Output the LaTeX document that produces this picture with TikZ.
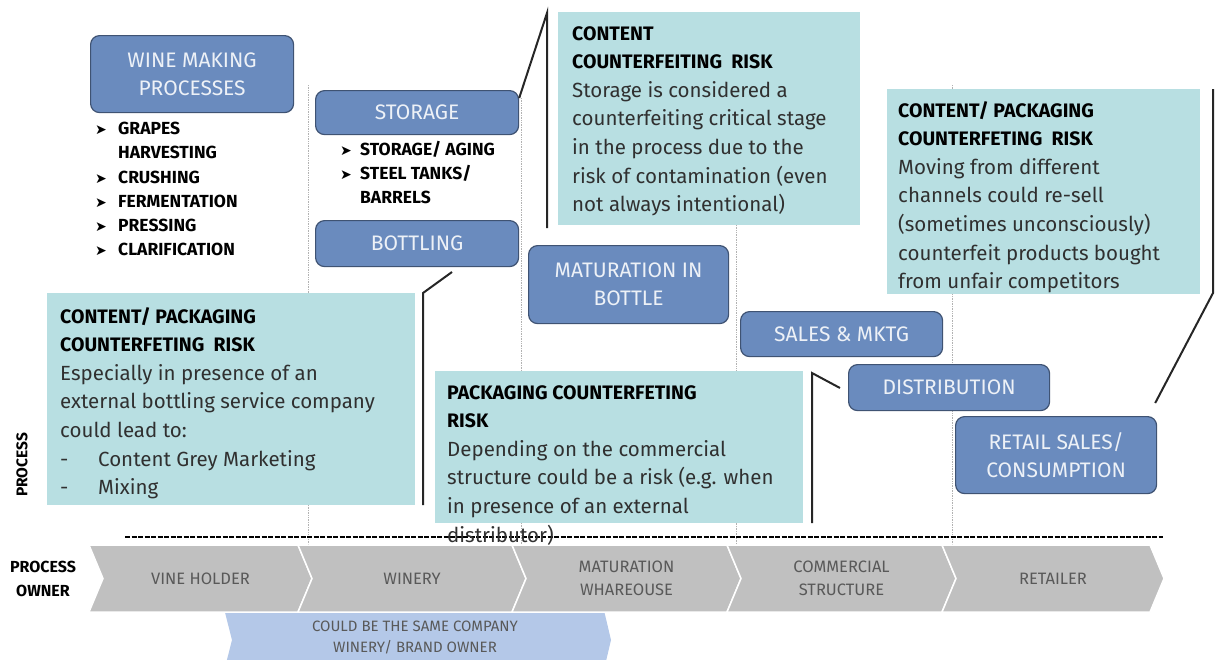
\documentclass[tikz,border=0pt]{standalone}
\usepackage{fontspec}
\setmainfont{Fira Sans}
\newfontfamily\symfont{DejaVu Sans}
\usetikzlibrary{positioning}

\definecolor{stageblue}{HTML}{6A8BBE}
\definecolor{stageedge}{HTML}{3F5373}
\definecolor{riskteal}{HTML}{B8DFE2}
\definecolor{ownergray}{HTML}{C0C0C0}
\definecolor{ownerblue}{HTML}{B4C8E8}
\definecolor{bodygray}{HTML}{303030}

\newcommand{\stepmark}[1]{\makebox[#1][l]{\symfont\fontsize{14}{14}\selectfont ➤}}

\tikzset{
  stagebox/.style={draw=stageedge, line width=1.2pt, fill=stageblue, rounded corners=9pt,
    text=white!88!stageblue, font=\fontsize{21}{28}\selectfont, align=center, inner sep=0pt, anchor=north west},
  riskbox/.style={fill=riskteal, inner sep=0pt, anchor=north west},
  risktext/.style={anchor=north west, align=left, inner sep=0pt, text=bodygray, font=\fontsize{20.5}{28.6}\selectfont},
  risktitle/.style={font=\bfseries\fontsize{19.5}{28.6}\selectfont},
  steplist/.style={anchor=north west, align=left, inner sep=0pt, font=\bfseries\fontsize{17.5}{24.2}\selectfont},
  ownerchevron/.style={fill=ownergray, draw=white, line width=1.5pt},
  ownertext/.style={text=black!65, font=\fontsize{16.5}{23}\selectfont, align=center},
  callout/.style={draw=black!85, line width=2pt},
  laneline/.style={draw=black!30, densely dotted, line width=0.7pt}
}
\newcommand{\risktitle}[1]{{\bfseries\fontsize{19.5}{28.6}\selectfont\color{black}#1}}

\begin{document}
\begin{tikzpicture}[x=1pt,y=-1pt]
\useasboundingbox (0,0) rectangle (1218,659);

% lanes
\foreach \x/\ytop in {308/85, 521/98, 736/225, 952/85}{
  \draw[laneline] (\x,\ytop) -- (\x,545);
}
\coordinate (dashL) at (125,537);
\coordinate (dashR) at (1163,537);
\draw[black, line width=1.8pt, dash pattern=on 5pt off 1.5pt] (dashL) -- (dashR);

% process owners
\filldraw[fill=ownerblue, draw=none] (218,585) -- (598,585) -- (611,640) -- (598,695) -- (218,695) -- (232,640) -- cycle;
\node[ownertext, font=\fontsize{15}{21}\selectfont] (samecompany) at (415,638) {COULD BE THE SAME COMPANY\\WINERY/ BRAND OWNER};
\foreach \xl/\xr/\lbl [count=\i] in {89/298/{VINE HOLDER}, 298/512/{WINERY}, 512/727/{MATURATION\\WHAREOUSE},
    727/942/{COMMERCIAL\\STRUCTURE}, 942/1150/{RETAILER}}{
  \filldraw[ownerchevron] (\xl,545) -- (\xr,545) -- ++(14,33.5) -- (\xr,612) -- (\xl,612) -- ++(14,-33.5) -- cycle;
  \node[ownertext] (owner\i) at ({(\xl+\xr)/2+7},578.5) {\lbl};
}
\node[font=\bfseries\fontsize{16}{24}\selectfont, align=center] (ownerlbl) at (43,579) {PROCESS\\OWNER};
\node[rotate=90, font=\bfseries\fontsize{15.5}{15}\selectfont] (processlbl) at (22,465) {PROCESS};

% risk boxes
\node[riskbox, minimum width=302, minimum height=213] (storagerisk) at (558,12) {};
\node[risktext] (storageriskt) at (572,26) {\risktitle{CONTENT}\\
  \risktitle{COUNTERFEITING\ \ RISK}\\
  Storage is considered a\\counterfeiting critical stage\\in the process due to the\\
  risk of contamination (even\\not always intentional)};

\node[riskbox, minimum width=313, minimum height=205] (retailrisk) at (887,89) {};
\node[risktext] (retailriskt) at (898,101) {\risktitle{CONTENT/ PACKAGING}\\
  \risktitle{COUNTERFETING\ \ RISK}\\
  Moving from different\\channels could re-sell\\(sometimes unconsciously)\\
  counterfeit products bought\\from unfair competitors};

\node[riskbox, minimum width=368, minimum height=212] (bottlingrisk) at (47,293) {};
\node[risktext] (bottlingriskt) at (60,307) {\risktitle{CONTENT/ PACKAGING}\\
  \risktitle{COUNTERFETING\ \ RISK}\\
  Especially in presence of an\\external bottling service company\\could lead to:\\
  \makebox[38pt][l]{-}Content Grey Marketing\\\makebox[38pt][l]{-}Mixing};

\node[riskbox, minimum width=368, minimum height=152] (distrisk) at (435,371) {};
\node[risktext] (distriskt) at (447,385) {\risktitle{PACKAGING COUNTERFETING}\\
  \risktitle{RISK}\\
  Depending on the commercial\\structure could be a risk (e.g. when\\
  in presence of an external\\distributor)};

% process steps
\node[stagebox, minimum width=203, minimum height=77] (winemaking) at (90,35) {WINE MAKING\\PROCESSES};
\node[stagebox, minimum width=203, minimum height=44] (storage) at (315,90) {STORAGE};
\node[stagebox, minimum width=203, minimum height=46] (bottling) at (315,220) {BOTTLING};
\node[stagebox, minimum width=200, minimum height=78] (maturation) at (528,245) {MATURATION IN\\BOTTLE};
\node[stagebox, minimum width=202, minimum height=45] (sales) at (740,311) {SALES \& MKTG};
\node[stagebox, minimum width=201, minimum height=46] (distribution) at (848,364) {DISTRIBUTION};
\node[stagebox, minimum width=201, minimum height=77] (retail) at (955,416) {RETAIL SALES/\\CONSUMPTION};

\node[steplist] (winelist) at (95,122) {\stepmark{23pt}GRAPES\\\makebox[23pt]{}HARVESTING\\
  \stepmark{23pt}CRUSHING\\\stepmark{23pt}FERMENTATION\\\stepmark{23pt}PRESSING\\\stepmark{23pt}CLARIFICATION};
\node[steplist] (storagelist) at (340,141) {\stepmark{20pt}STORAGE/ AGING\\\stepmark{20pt}STEEL TANKS/\\
  \makebox[20pt]{}BARRELS};

% callouts
\coordinate (s1) at (547,13);
\coordinate (s2) at (547,228);
\draw[callout] ([yshift=-8pt]storage.north east) -- (s1) -- (s2);
\coordinate (b1) at (423,505);
\coordinate (b2) at (423,293);
\coordinate (b3) at (452,272);
\draw[callout] (b1) -- (b2) -- (b3);
\coordinate (d1) at (812,523);
\coordinate (d2) at (812,373);
\coordinate (d3) at (840,388);
\draw[callout] (d1) -- (d2) -- (d3);
\coordinate (r1) at (1213,293);
\coordinate (r2) at (1213,89);
\draw[callout] ([xshift=-2pt,yshift=13pt]retail.north east) -- (r1) -- (r2);
\end{tikzpicture}
\end{document}
